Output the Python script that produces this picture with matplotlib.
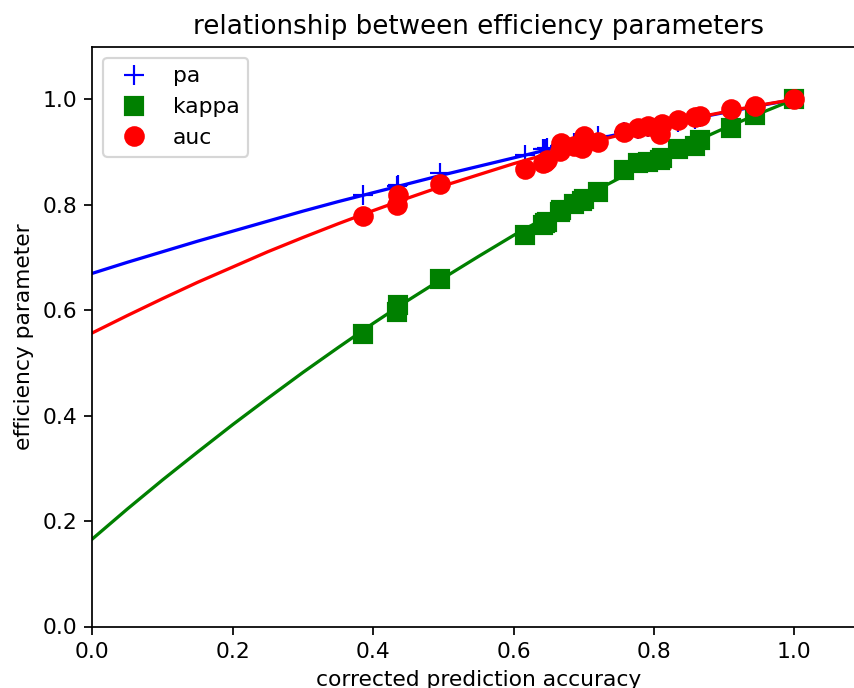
import matplotlib
matplotlib.use("Agg")
import matplotlib.pyplot as plt

# shared x values (corrected prediction accuracy)
cpa = [0.386, 0.434, 0.436, 0.496, 0.617, 0.642, 0.645, 0.648, 0.666, 0.668,
       0.686, 0.697, 0.700, 0.720, 0.758, 0.778, 0.792, 0.808, 0.812, 0.834,
       0.858, 0.866, 0.910, 0.944, 1.000]
pa = [0.818, 0.836, 0.838, 0.860, 0.895, 0.905, 0.906, 0.907, 0.912, 0.913,
      0.918, 0.922, 0.923, 0.930, 0.938, 0.943, 0.947, 0.951, 0.952, 0.957,
      0.963, 0.966, 0.977, 0.986, 1.000]
kappa = [0.555, 0.597, 0.610, 0.660, 0.742, 0.762, 0.765, 0.768, 0.786, 0.790,
         0.802, 0.808, 0.812, 0.824, 0.867, 0.879, 0.882, 0.885, 0.889, 0.906,
         0.912, 0.923, 0.945, 0.970, 1.000]
auc = [0.778, 0.799, 0.818, 0.840, 0.868, 0.879, 0.882, 0.885, 0.902, 0.918,
       0.911, 0.908, 0.930, 0.920, 0.938, 0.946, 0.949, 0.935, 0.954, 0.960,
       0.967, 0.968, 0.982, 0.988, 1.000]

# fitted curves
fit_x = [0.00, 0.05, 0.10, 0.15, 0.20, 0.25, 0.30, 0.35, 0.40, 0.45, 0.50,
         0.55, 0.60, 0.65, 0.70, 0.75, 0.80, 0.85, 0.90, 0.95, 1.00]
fit_pa = [0.670, 0.691, 0.711, 0.731, 0.750, 0.769, 0.788, 0.806, 0.823, 0.840, 0.857,
          0.873, 0.889, 0.905, 0.920, 0.934, 0.948, 0.962, 0.975, 0.988, 1.000]
fit_kappa = [0.166, 0.223, 0.278, 0.331, 0.383, 0.433, 0.482, 0.529, 0.575, 0.619, 0.661,
             0.702, 0.742, 0.779, 0.815, 0.850, 0.883, 0.915, 0.945, 0.973, 1.000]
fit_auc = [0.557, 0.590, 0.622, 0.653, 0.682, 0.711, 0.738, 0.764, 0.789, 0.813, 0.836,
           0.857, 0.878, 0.897, 0.915, 0.932, 0.948, 0.963, 0.976, 0.989, 1.000]

dpi = 156.5
fig = plt.figure(figsize=(854 / dpi, 688 / dpi), dpi=dpi)
ax = fig.add_axes([92.3 / 854, (688 - 626.5) / 688, 772.2 / 854, (626.5 - 46.7) / 688])

ax.plot(cpa, pa, '+', color='b', markersize=9, linestyle='none', label='pa')
ax.plot(fit_x, fit_pa, '-', color='b')
ax.plot(cpa, kappa, 's', color='g', markersize=8.5, linestyle='none', label='kappa')
ax.plot(fit_x, fit_kappa, '-', color='g')
ax.plot(cpa, auc, 'o', color='r', markersize=8.5, linestyle='none', label='auc')
ax.plot(fit_x, fit_auc, '-', color='r')

ax.set_xlim(0, 1.1)
ax.set_ylim(0, 1.1)
ax.set_xlabel('corrected prediction accuracy')
ax.set_ylabel('efficiency parameter')
ax.set_title('relationship between efficiency parameters')
ax.legend(loc='upper left')

fig.savefig('out.png', dpi=dpi)
